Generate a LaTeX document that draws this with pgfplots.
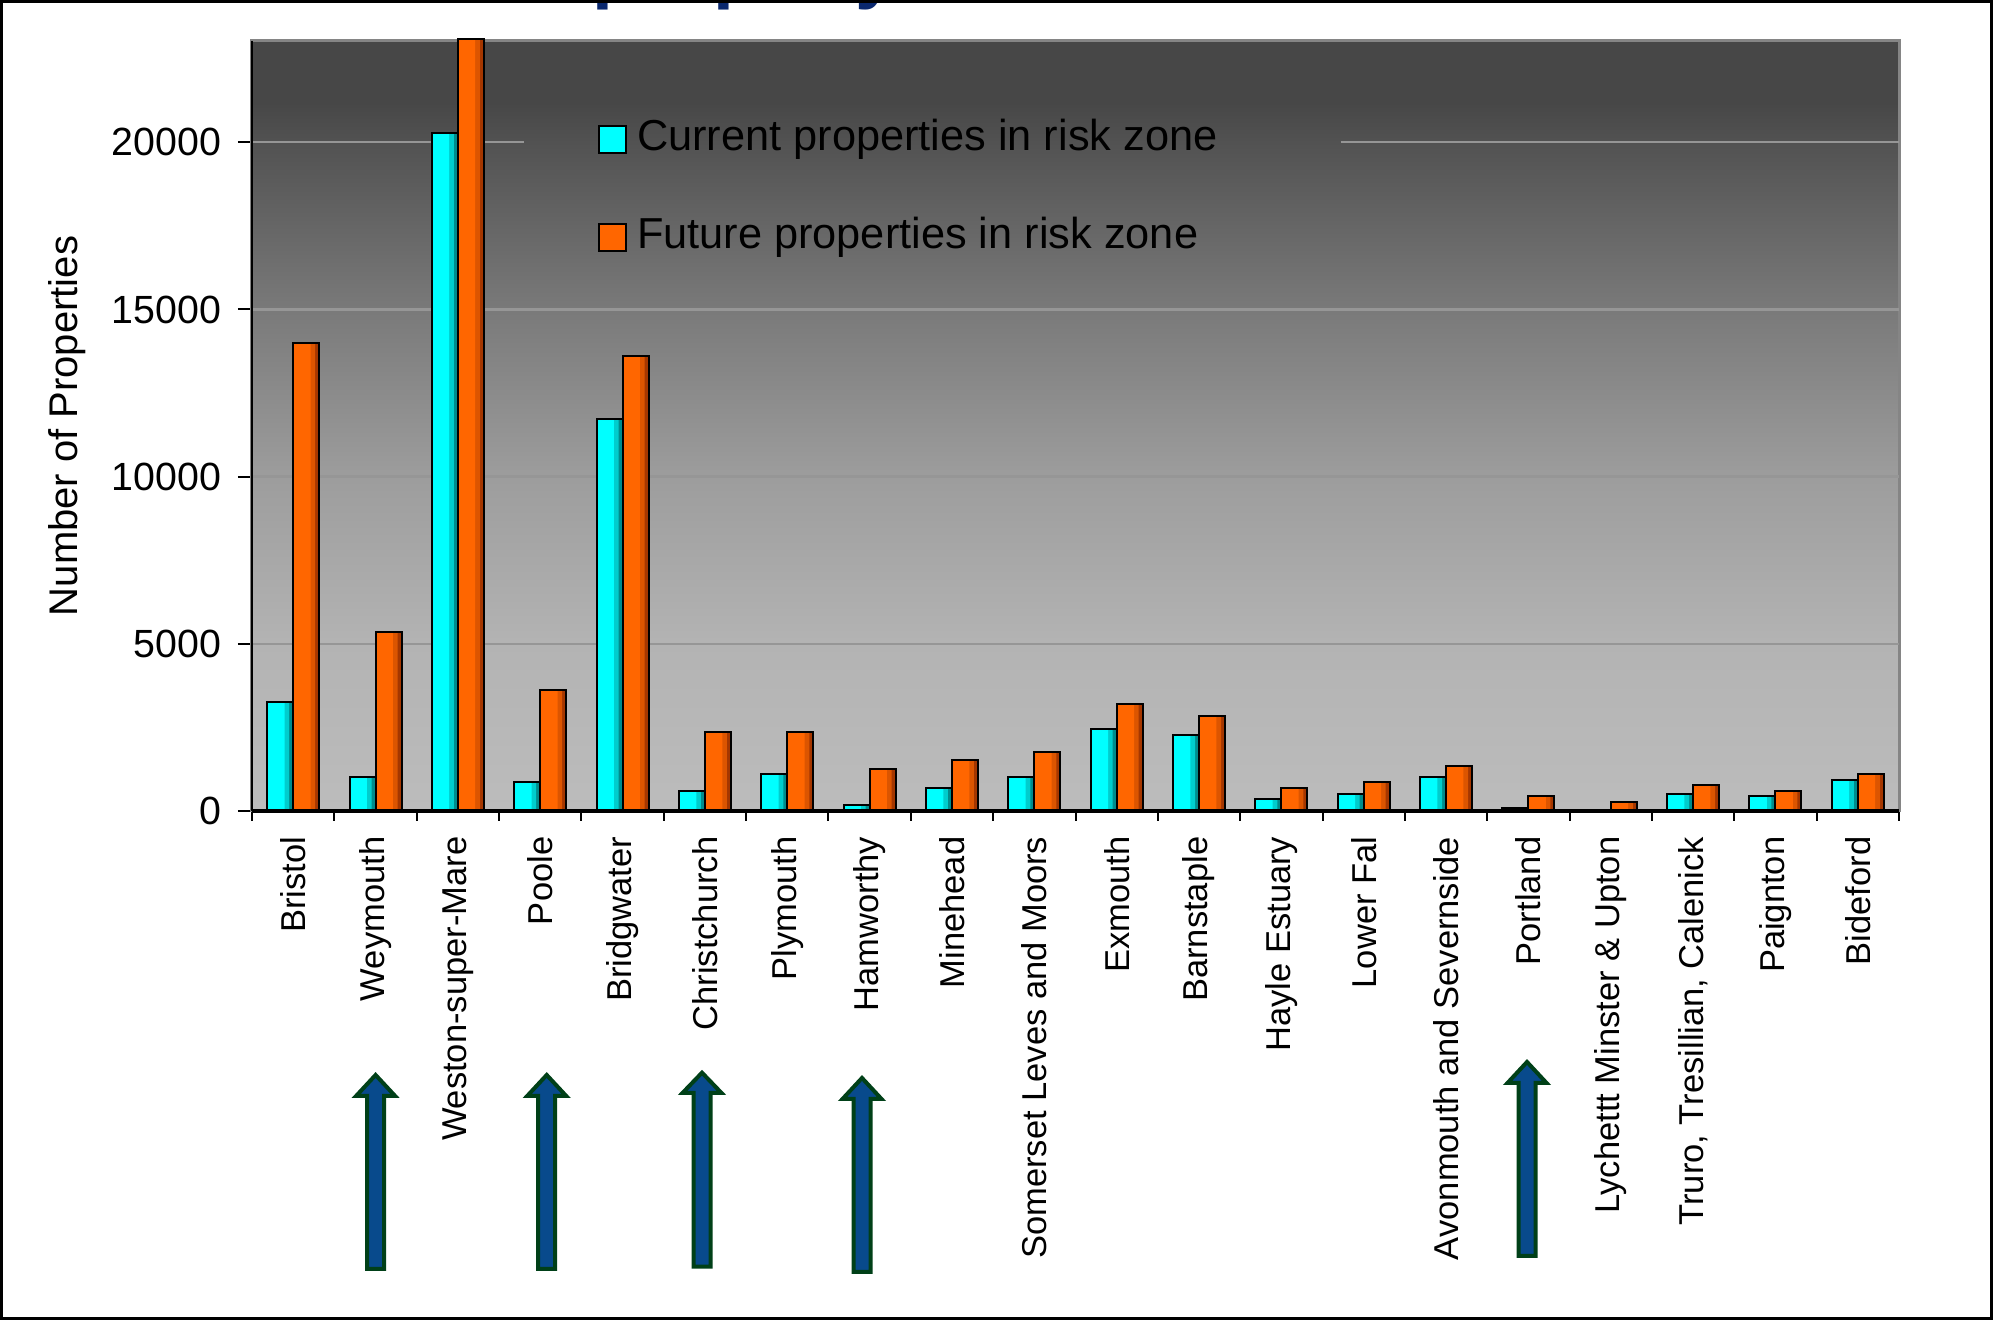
\documentclass[border=0pt]{standalone}
\usepackage{fontspec}
\setmainfont{Liberation Sans}
\usepackage{pgfplots}
\usepackage{pgfplotstable}
\pgfplotsset{compat=1.18}

\definecolor{cyanbr}{RGB}{0,255,255}
\definecolor{cyanmd}{RGB}{0,205,205}
\definecolor{cyandk}{RGB}{0,140,140}
\definecolor{orangebr}{RGB}{255,102,0}
\definecolor{orangemd}{RGB}{220,85,0}
\definecolor{orangedk}{RGB}{165,55,0}
\definecolor{gridgray}{RGB}{150,150,150}
\definecolor{boxgray}{RGB}{133,133,133}
\definecolor{arrowfill}{RGB}{8,74,140}
\definecolor{arrowedge}{RGB}{0,64,24}
\definecolor{titleblue}{RGB}{10,40,110}
\definecolor{bgA}{RGB}{188,188,188}
\definecolor{bgB}{RGB}{179,179,179}
\definecolor{bgC}{RGB}{156,156,156}
\definecolor{bgD}{RGB}{120,120,120}
\definecolor{bgE}{RGB}{82,82,82}
\definecolor{bgF}{RGB}{71,71,71}
\pgfdeclareverticalshading{plotbg}{100bp}{color(0bp)=(bgA); color(25bp)=(bgA); color(36bp)=(bgB); color(47bp)=(bgC); color(58bp)=(bgD); color(68.4bp)=(bgE); color(71bp)=(bgF); color(100bp)=(bgF)}

\pgfplotstableread{
x cur fut
0 3260 13990
1 1020 5340
2 20270 23100
3 875 3610
4 11710 13610
5 606 2356
6 1103 2356
7 189 1252
8 695 1521
9 1023 1769
10 2455 3191
11 2275 2833
12 358 686
13 507 865
14 1014 1351
15 100 447
16 0 268
17 507 775
18 447 596
19 924 1103
}\datatable

\newcommand\blockarrow[4]{%
  \draw[arrowedge, fill=arrowfill, line width=1.2pt, line join=miter]
    ({#1-8.5},#4) -- ({#1-8.5},#3) -- ({#1-19.5},#3) -- (#1,#2) --
    ({#1+19.5},#3) -- ({#1+8.5},#3) -- ({#1+8.5},#4) -- cycle;}

\pgfplotsset{
  barlayer/.style n args={3}{ybar, bar width=#1, bar shift=#2, fill=#3, draw=none, forget plot},
  baroutline/.style={ybar, bar width=7.8pt, bar shift=#1, fill=none, draw=black, line width=0.6pt},
}

\begin{document}
\begin{tikzpicture}
\begin{scope}[x=0.3pt,y=0.3pt]
  \useasboundingbox (0,0) rectangle (1993,1320);
  \fill[white] (0,0) rectangle (1993,1320);
\end{scope}
\begin{axis}[
  at={(75.6pt,152.7pt)}, anchor=south west,
  width=494.1pt, height=231pt, scale only axis,
  xmin=-0.5, xmax=19.5, ymin=0, ymax=23030,
  clip=false,
  scaled y ticks=false,
  axis background/.style={shade, shading=plotbg},
  axis line style={draw=boxgray, line width=0.9pt},
  tick pos=left, tick align=outside,
  xtick={0,...,19},
  xticklabels={Bristol,Weymouth,Weston-super-Mare,Poole,Bridgwater,Christchurch,Plymouth,Hamworthy,Minehead,Somerset Leves and Moors,Exmouth,Barnstaple,Hayle Estuary,Lower Fal,Avonmouth and Severnside,Portland,Lychettt Minster \& Upton,{Truro, Tresillian, Calenick},Paignton,Bideford},
  minor xtick={-0.5,0.5,...,19.5},
  major x tick style={draw=none},
  minor x tick style={draw=black, line width=0.6pt},
  minor tick length=3pt,
  ytick={0,5000,10000,15000,20000},
  yticklabels={0,5000,10000,15000,20000},
  major tick length=4.2pt,
  ytick style={draw=black, line width=0.6pt},
  yticklabel style={font=\fontsize{11.8}{14}\selectfont, anchor=east, xshift=-1.5pt},
  xticklabel style={font=\fontsize{10.35}{12}\selectfont, rotate=90, anchor=east},
  ylabel={Number of Properties},
  every axis y label/.style={at={(axis description cs:-0.1123,0.5)}, rotate=90, anchor=center, font=\fontsize{12}{14}\selectfont},
  legend style={at={(rel axis cs:0.2099,0.9035)}, anchor=north west, draw=none, fill=none, inner sep=0pt,
    /tikz/row sep=15.1pt, /tikz/column sep=2pt, font=\fontsize{13}{15}\selectfont,
    nodes={inner sep=1pt, text height=9.5pt, text depth=2.8pt}},
  legend cell align=left,
]
\draw[gridgray, line width=0.7pt] (axis cs:-0.5,5000) -- (axis cs:19.5,5000);
\draw[gridgray, line width=0.7pt] (axis cs:-0.5,10000) -- (axis cs:19.5,10000);
\draw[gridgray, line width=0.7pt] (axis cs:-0.5,15000) -- (axis cs:19.5,15000);
\draw[gridgray, line width=0.7pt] (axis cs:-0.5,20000) -- (axis cs:2.8,20000);
\draw[gridgray, line width=0.7pt] (axis cs:12.72,20000) -- (axis cs:19.5,20000);
% current series (cyan), shaded by layering
\addplot[barlayer={7.8pt}{-3.9pt}{cyandk}] table[x=x,y=cur]{\datatable};
\addplot[barlayer={6.6pt}{-4.5pt}{cyanmd}] table[x=x,y=cur]{\datatable};
\addplot[barlayer={5.2pt}{-5.2pt}{cyanbr}] table[x=x,y=cur]{\datatable};
% future series (orange)
\addplot[barlayer={7.8pt}{3.9pt}{orangedk}] table[x=x,y=fut]{\datatable};
\addplot[barlayer={6.6pt}{3.3pt}{orangemd}] table[x=x,y=fut]{\datatable};
\addplot[barlayer={5.2pt}{2.6pt}{orangebr}] table[x=x,y=fut]{\datatable};
% outlines, with legend entries
\addplot[baroutline=-3.9pt, legend image code/.code={\draw[fill=cyanbr, draw=black, line width=0.6pt] (0pt,-4pt) rectangle (8pt,4pt);}] table[x=x,y=cur]{\datatable};
\addlegendentry{Current properties in risk zone}
\addplot[baroutline=3.9pt, legend image code/.code={\draw[fill=orangebr, draw=black, line width=0.6pt] (0pt,-4pt) rectangle (8pt,4pt);}] table[x=x,y=fut]{\datatable};
\addlegendentry{Future properties in risk zone}
\draw[black, line width=0.6pt] (rel axis cs:0,0) -- (rel axis cs:0,1);
\draw[black, line width=1.2pt] (rel axis cs:0,0) -- (rel axis cs:1,0);
\end{axis}
\begin{scope}[x=0.3pt,y=0.3pt]
  \begin{scope}
    \clip (0,0) rectangle (1993,1320);
    \node[anchor=base west, inner sep=0pt, text=titleblue, font=\fontsize{22.5}{27}\selectfont\bfseries] at (592,1325.8) {property};
  \end{scope}
  \blockarrow{375.6}{245}{224}{51}
  \blockarrow{546.7}{245}{224}{51}
  \blockarrow{702}{247.3}{227}{53.3}
  \blockarrow{862}{242}{221}{48}
  \blockarrow{1527}{258}{237}{64}
  \draw[black, line width=0.9pt] (1.5,1.5) rectangle (1991.5,1318.5);
\end{scope}
\end{tikzpicture}
\end{document}
